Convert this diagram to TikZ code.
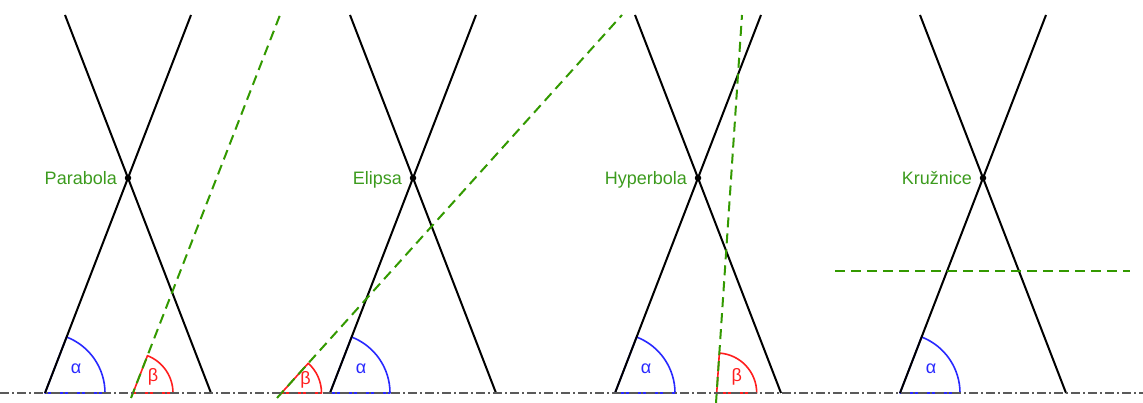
\documentclass[tikz,border=0pt]{standalone}
\usepackage{fontspec}
\setmainfont{Liberation Sans}
\definecolor{cutgreen}{RGB}{51,153,0}
\definecolor{labgreen}{RGB}{60,155,30}
\definecolor{secblue}{RGB}{40,40,255}
\definecolor{secred}{RGB}{255,30,30}
\definecolor{basegray}{RGB}{90,90,90}
\begin{document}
\begin{tikzpicture}[x=1pt,y=1pt,
  cone/.style={black,line width=2pt},
  cut/.style={cutgreen,line width=2pt,dash pattern=on 10pt off 6pt},
  bluesect/.style={secblue,line width=1.6pt,line join=round},
  redsect/.style={secred,line width=1.6pt,line join=round},
  baseline/.style={basegray,line width=1.3pt,dash pattern=on 9pt off 3pt on 2pt off 3pt},
  apexdot/.style={circle,fill=black,inner sep=0pt,minimum size=6.5pt},
  lab/.style={text=labgreen,inner sep=0pt,font=\fontsize{18}{21}\selectfont},
  glyph/.style={inner sep=0pt,font=\fontsize{18}{21}\selectfont}]
\useasboundingbox (0,0) rectangle (1143,403);
% sectors (angles) drawn first
\foreach \i/\ax in {1/128,2/413,3/698,4/983}{
  \coordinate (bl\i) at (\ax-83,10);
  \draw[bluesect] (bl\i) -- ++(60,0) arc[start angle=0,end angle=68.9,radius=60] -- cycle;
  \node[glyph,text=secblue] (al\i) at ([xshift=31pt,yshift=24pt]bl\i) {α};
}
\coordinate (rc1) at (133,10);
\coordinate (rc2) at (281.5,10);
\coordinate (rc3) at (716.7,10);
\draw[redsect] (rc1) -- ++(40,0) arc[start angle=0,end angle=68.8,radius=40] -- cycle;
\draw[redsect] (rc2) -- ++(40,0) arc[start angle=0,end angle=48.0,radius=40] -- cycle;
\draw[redsect] (rc3) -- ++(40,0) arc[start angle=0,end angle=86.2,radius=40] -- cycle;
\node[glyph,text=secred] (be1) at ([xshift=20pt,yshift=16pt]rc1) {β};
\node[glyph,text=secred] (be2) at ([xshift=24pt,yshift=13pt]rc2) {β};
\node[glyph,text=secred] (be3) at ([xshift=20pt,yshift=16pt]rc3) {β};
% cones
\foreach \i/\ax/\lab in {1/128/Parabola,2/413/Elipsa,3/698/Hyperbola,4/983/Kružnice}{
  \node[apexdot] (ap\i) at (\ax,225) {};
  \coordinate (tl\i) at (\ax-63,388);
  \coordinate (tr\i) at (\ax+63,388);
  \coordinate (br\i) at (\ax+83,10);
  \coordinate (bk\i) at (\ax-83,10);
  \draw[cone] (tl\i) -- (ap\i.center) -- (br\i);
  \draw[cone] (tr\i) -- (ap\i.center) -- (bk\i);
  \node[lab,anchor=base east] (t\i) at (\ax-11,218.5) {\lab};
}
% cutting planes
\coordinate (g1a) at (131,5);   \coordinate (g1b) at (280,388);
\coordinate (g2a) at (277,5);   \coordinate (g2b) at (622,388);
\coordinate (g3a) at (716,0);   \coordinate (g3b) at (742,388);
\coordinate (g4a) at (835,132); \coordinate (g4b) at (1130,132);
\draw[cut] (g1a) -- (g1b);
\draw[cut] (g2a) -- (g2b);
\draw[cut] (g3a) -- (g3b);
\draw[cut] (g4a) -- (g4b);
% base line
\coordinate (b0) at (0,10);
\coordinate (b1) at (1143,10);
\draw[baseline] (b0) -- (b1);
\end{tikzpicture}
\end{document}
